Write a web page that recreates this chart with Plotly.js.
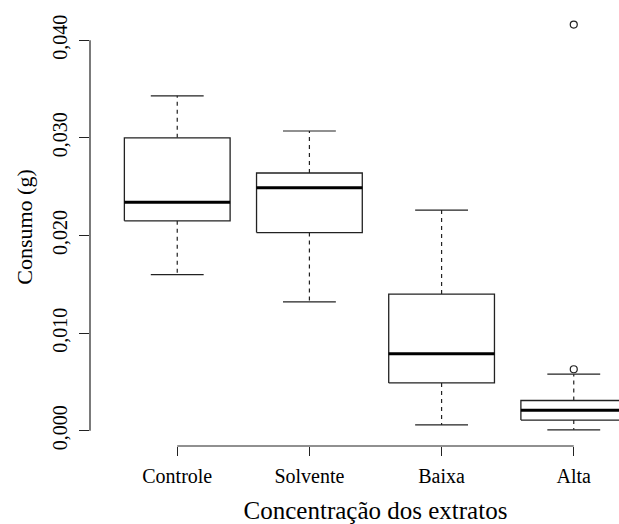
<!DOCTYPE html>
<html>
<head>
<meta charset="utf-8">
<script src="https://cdn.plot.ly/plotly-3.0.1.min.js"></script>
<style>
html, body { margin: 0; padding: 0; width: 619px; height: 524px; overflow: hidden; background: #fff; }
#chart { width: 700px; height: 524px; }
</style>
</head>
<body>
<div id="chart"></div>
<script>
const categories = ['Controle', 'Solvente', 'Baixa', 'Alta'];
const lowerWhisker = [0.0160, 0.0132, 0.0006, 0.0001];
const q1 = [0.0215, 0.0203, 0.0049, 0.0011];
const median = [0.0234, 0.0249, 0.0079, 0.0021];
const q3 = [0.0300, 0.0264, 0.0140, 0.0031];
const upperWhisker = [0.0343, 0.0307, 0.0226, 0.0058];
const outlierCategory = ['Alta', 'Alta'];
const outlierValue = [0.0416, 0.0063];
const yTicks = [0, 0.01, 0.02, 0.03, 0.04];

const boxHalf = 0.4, capHalf = 0.2;
const lineColor = '#222';
const serif = "'Liberation Serif', 'Times New Roman', serif";

const boxX = [], boxY = [], medX = [], medY = [], whiskX = [], whiskY = [], capX = [], capY = [];
categories.forEach((c, i) => {
  const p = i + 1;
  boxX.push(p - boxHalf, p + boxHalf, p + boxHalf, p - boxHalf, p - boxHalf, null);
  boxY.push(q1[i], q1[i], q3[i], q3[i], q1[i], null);
  medX.push(p - boxHalf, p + boxHalf, null);
  medY.push(median[i], median[i], null);
  whiskX.push(p, p, null, p, p, null);
  whiskY.push(q3[i], upperWhisker[i], null, q1[i], lowerWhisker[i], null);
  capX.push(p - capHalf, p + capHalf, null, p - capHalf, p + capHalf, null);
  capY.push(upperWhisker[i], upperWhisker[i], null, lowerWhisker[i], lowerWhisker[i], null);
});
const outX = outlierCategory.map(c => categories.indexOf(c) + 1);

const traces = [
  { x: whiskX, y: whiskY, mode: 'lines', line: { color: lineColor, width: 1.2, dash: '4px,4px' }, hoverinfo: 'skip' },
  { x: capX, y: capY, mode: 'lines', line: { color: lineColor, width: 1.2 }, hoverinfo: 'skip' },
  { x: boxX, y: boxY, mode: 'lines', fill: 'toself', fillcolor: '#fff', line: { color: lineColor, width: 1.3 }, hoverinfo: 'skip' },
  { x: medX, y: medY, mode: 'lines', line: { color: '#000', width: 3 }, hoverinfo: 'skip' },
  { x: outX, y: outlierValue, mode: 'markers', marker: { symbol: 'circle-open', size: 7, color: lineColor, line: { width: 1.2, color: lineColor } }, hoverinfo: 'skip' }
];

const layout = {
  width: 700, height: 524,
  margin: { l: 90, r: 39, t: 8, b: 78 },
  showlegend: false,
  paper_bgcolor: '#fff', plot_bgcolor: '#fff',
  separators: ',.',
  font: { family: serif, size: 20, color: '#000' },
  xaxis: {
    range: [0.34, 4.66],
    tickvals: categories.map((c, i) => i + 1),
    ticktext: categories,
    showgrid: false, zeroline: false, showline: false,
    ticks: 'outside', ticklen: 9, tickwidth: 1.2, tickcolor: lineColor,
    ticklabelstandoff: 3,
    tickfont: { family: serif, size: 20, color: '#000' },
    title: { text: 'Concentração dos extratos', font: { family: serif, size: 25, color: '#000' }, standoff: 18 }
  },
  yaxis: {
    range: [-0.00156, 0.0433],
    tickvals: yTicks,
    tickformat: '.3f',
    tickangle: -90,
    showgrid: false, zeroline: false, showline: false,
    ticks: 'outside', ticklen: 10, tickwidth: 1.2, tickcolor: lineColor,
    ticklabelstandoff: 4,
    tickfont: { family: serif, size: 20, color: '#000' },
    title: { text: 'Consumo (g)', font: { family: serif, size: 22, color: '#000' }, standoff: 10 }
  },
  shapes: [
    { type: 'line', xref: 'paper', yref: 'y', x0: 0, x1: 0, y0: yTicks[0], y1: yTicks[yTicks.length - 1], line: { color: lineColor, width: 1.2 } },
    { type: 'line', xref: 'x', yref: 'paper', x0: 1, x1: categories.length, y0: 0, y1: 0, line: { color: lineColor, width: 1.2 } }
  ]
};

Plotly.newPlot('chart', traces, layout, { displayModeBar: false, staticPlot: true });
</script>
</body>
</html>
